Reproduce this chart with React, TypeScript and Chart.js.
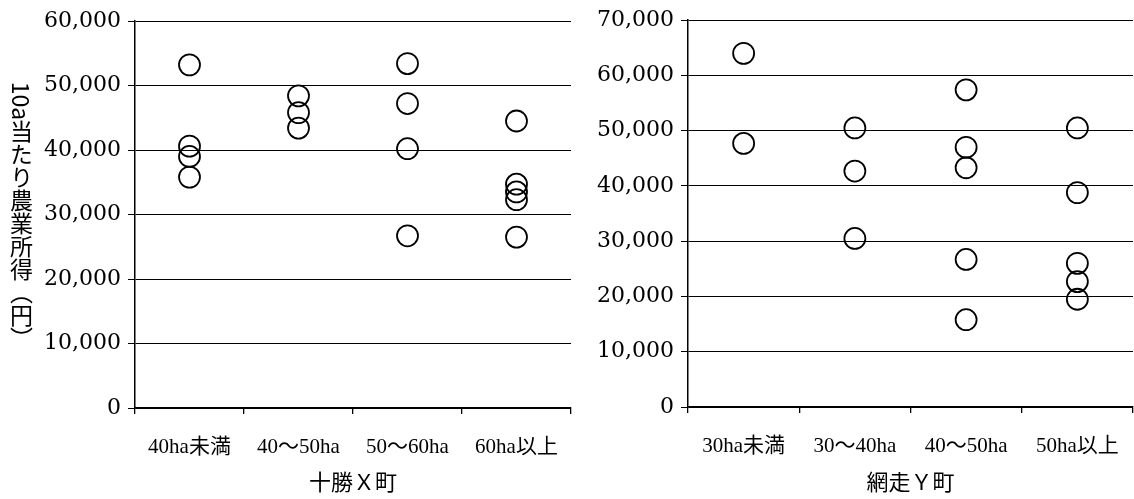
import React, { useEffect, useRef } from 'react';
import { Chart, registerables } from 'chart.js';

Chart.register(...registerables);

// ---- Data: 十勝X町 ----
const leftCategories = ['40ha未満', '40〜50ha', '50〜60ha', '60ha以上'];
const leftUnder40 = [53200, 40600, 39000, 35800];
const left40to50 = [48400, 45800, 43400];
const left50to60 = [53400, 47200, 40200, 26700];
const leftOver60 = [44500, 34700, 33500, 32300, 26500];
const leftMax = 60000;

// ---- Data: 網走Y町 ----
const rightCategories = ['30ha未満', '30〜40ha', '40〜50ha', '50ha以上'];
const rightUnder30 = [64000, 47700];
const right30to40 = [50500, 42700, 30500];
const right40to50 = [57400, 47000, 43300, 26700, 15800];
const rightOver50 = [50500, 38800, 26000, 22700, 19500];
const rightMax = 70000;

const tickStep = 10000;
const yAxisTitle = '10a当たり農業所得（円）';
const leftTitle = '十勝Ｘ町';
const rightTitle = '網走Ｙ町';

const toPoints = (cats: string[], groups: number[][]) =>
  groups.flatMap((g, i) => g.map((v) => ({ x: cats[i], y: v })));

function makeConfig(
  cats: string[],
  groups: number[][],
  max: number,
  title: string,
  yWidth: number,
  xHeight: number,
  padTop: number,
  padRight: number
): any {
  return {
    type: 'scatter',
    data: {
      datasets: [
        {
          data: toPoints(cats, groups),
          pointRadius: 10.5,
          pointHoverRadius: 10.5,
          pointBorderWidth: 1.8,
          pointBackgroundColor: 'rgba(0,0,0,0)',
          pointBorderColor: '#000',
          borderColor: '#000',
          showLine: false,
        },
      ],
    },
    options: {
      animation: false,
      responsive: false,
      devicePixelRatio: 1,
      layout: { autoPadding: false, padding: { top: padTop, right: padRight, left: 0, bottom: 0 } },
      plugins: { legend: { display: false }, tooltip: { enabled: false } },
      scales: {
        x: {
          type: 'category',
          labels: cats,
          offset: true,
          grid: {
            offset: true,
            drawOnChartArea: false,
            drawTicks: true,
            tickLength: 6,
            color: '#000',
            lineWidth: 1.3,
          },
          border: { display: true, color: '#000', width: 1.5 },
          ticks: {
            color: '#000',
            autoSkip: false,
            maxRotation: 0,
            padding: 21,
            font: { family: '"Liberation Serif", "Noto Sans CJK JP", serif', size: 21 },
          },
          title: {
            display: true,
            text: title,
            color: '#000',
            font: { family: '"Noto Sans CJK JP", sans-serif', size: 22 },
            padding: { top: 0, bottom: 4 },
          },
          afterFit: (scale: any) => {
            scale.height = xHeight;
            scale.paddingLeft = 0;
            scale.paddingRight = 0;
          },
        },
        y: {
          min: 0,
          max: max,
          grid: {
            color: '#000',
            lineWidth: 1,
            drawTicks: true,
            tickLength: 7,
          },
          border: { display: true, color: '#000', width: 1.5 },
          ticks: {
            stepSize: tickStep,
            color: '#000',
            padding: 7,
            font: { family: '"DejaVu Serif", serif', size: 22 },
            callback: (v: any) => Number(v).toLocaleString('en-US'),
          },
          afterFit: (scale: any) => {
            scale.width = yWidth;
          },
        },
      },
    },
  };
}

function ChartCanvas(props: { config: any; width: number; height: number; left: number }) {
  const ref = useRef<HTMLCanvasElement | null>(null);
  useEffect(() => {
    if (!ref.current) return;
    const chart = new Chart(ref.current, props.config);
    return () => chart.destroy();
  }, []);
  return (
    <canvas
      ref={ref}
      width={props.width}
      height={props.height}
      style={{ position: 'absolute', left: props.left, top: 0, width: props.width, height: props.height }}
    />
  );
}

export default function App() {
  const leftConfig = makeConfig(
    leftCategories,
    [leftUnder40, left40to50, left50to60, leftOver60],
    leftMax,
    leftTitle,
    135,
    91,
    21,
    7
  );
  const rightConfig = makeConfig(
    rightCategories,
    [rightUnder30, right30to40, right40to50, rightOver50],
    rightMax,
    rightTitle,
    108,
    92,
    19,
    1
  );
  return (
    <div
      style={{
        position: 'absolute',
        left: 0,
        top: 0,
        width: 1134,
        height: 499,
        background: '#fff',
        overflow: 'hidden',
      }}
    >
      <ChartCanvas config={leftConfig} width={578} height={499} left={0} />
      <ChartCanvas config={rightConfig} width={554} height={499} left={580} />
      <div
        style={{
          position: 'absolute',
          left: 21,
          top: 216,
          transform: 'translate(-50%, -50%)',
          writingMode: 'vertical-rl',
          fontFamily: '"Noto Sans CJK JP", sans-serif',
          fontSize: 23,
          lineHeight: 1,
          color: '#000',
          whiteSpace: 'nowrap',
        }}
      >
        {yAxisTitle}
      </div>
    </div>
  );
}
